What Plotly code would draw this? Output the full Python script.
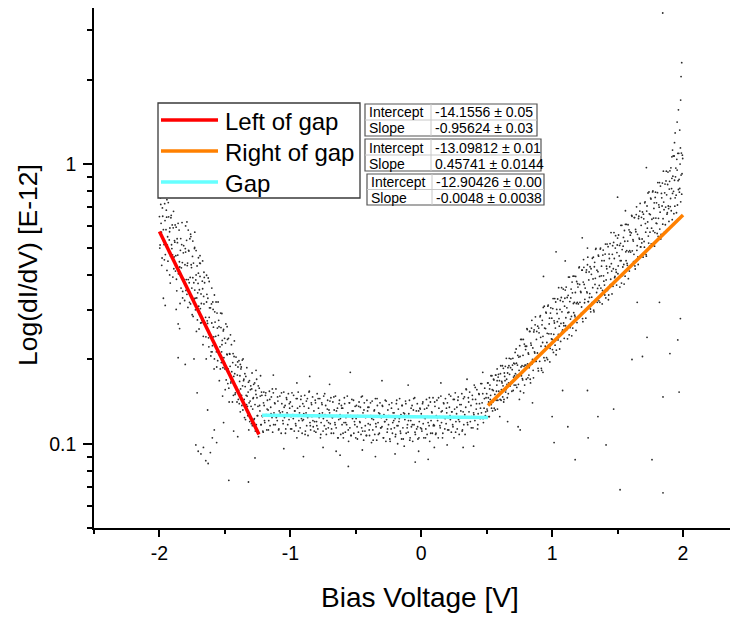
import plotly.graph_objects as go

# ---------------- data ----------------
# (bias voltage V, dI/dV in units of E-12)
left_pts = [
(-2.000,0.648),(-1.995,0.513),(-1.990,0.716),(-1.985,0.570),(-1.980,0.461),(-1.975,0.650),(-1.970,0.582),(-1.965,0.515),(-1.960,0.721),(-1.955,0.474),
(-1.950,0.582),(-1.945,0.645),(-1.940,0.513),(-1.935,0.449),(-1.930,0.647),(-1.925,0.535),(-1.920,0.590),(-1.915,0.468),(-1.910,0.655),(-1.905,0.498),
(-1.900,0.473),(-1.895,0.591),(-1.890,0.422),(-1.885,0.532),(-1.880,0.605),(-1.875,0.470),(-1.870,0.387),(-1.865,0.540),(-1.860,0.472),(-1.855,0.405),
(-1.850,0.580),(-1.845,0.428),(-1.840,0.491),(-1.835,0.360),(-1.830,0.515),(-1.825,0.444),(-1.820,0.383),(-1.815,0.510),(-1.810,0.386),(-1.805,0.436),
(-1.800,0.484),(-1.795,0.386),(-1.790,0.342),(-1.785,0.442),(-1.780,0.386),(-1.775,0.488),(-1.770,0.320),(-1.765,0.393),(-1.760,0.340),(-1.755,0.426),
(-1.750,0.289),(-1.745,0.392),(-1.740,0.442),(-1.735,0.329),(-1.730,0.354),(-1.725,0.301),(-1.720,0.401),(-1.715,0.332),(-1.710,0.277),(-1.705,0.374),
(-1.700,0.310),(-1.695,0.355),(-1.690,0.396),(-1.685,0.270),(-1.680,0.317),(-1.675,0.276),(-1.670,0.358),(-1.665,0.242),(-1.660,0.316),(-1.655,0.376),
(-1.650,0.270),(-1.645,0.241),(-1.640,0.321),(-1.635,0.275),(-1.630,0.331),(-1.625,0.239),(-1.620,0.283),(-1.615,0.245),(-1.610,0.306),(-1.605,0.213),
(-1.600,0.270),(-1.595,0.224),(-1.590,0.302),(-1.585,0.241),(-1.580,0.201),(-1.575,0.272),(-1.570,0.242),(-1.565,0.213),(-1.560,0.293),(-1.555,0.198),
(-1.550,0.244),(-1.545,0.262),(-1.540,0.207),(-1.535,0.185),(-1.530,0.260),(-1.525,0.213),(-1.520,0.234),(-1.515,0.187),(-1.510,0.256),(-1.505,0.195),
(-1.500,0.185),(-1.495,0.229),(-1.490,0.169),(-1.485,0.209),(-1.480,0.236),(-1.475,0.185),(-1.470,0.158),(-1.465,0.210),(-1.460,0.189),(-1.455,0.165),
(-1.450,0.226),(-1.445,0.170),(-1.440,0.195),(-1.435,0.149),(-1.430,0.205),(-1.425,0.178),(-1.420,0.152),(-1.415,0.204),(-1.410,0.156),(-1.405,0.176),
(-1.400,0.188),(-1.395,0.155),(-1.390,0.139),(-1.385,0.175),(-1.380,0.157),(-1.375,0.188),(-1.370,0.137),(-1.365,0.161),(-1.360,0.140),(-1.355,0.170),
(-1.350,0.124),(-1.345,0.160),(-1.340,0.174),(-1.335,0.138),(-1.330,0.148),(-1.325,0.126),(-1.320,0.166),(-1.315,0.140),(-1.310,0.120),(-1.305,0.156),
(-1.300,0.136),(-1.295,0.157),(-1.290,0.116),(-1.285,0.145),(-1.280,0.163),(-1.275,0.123),(-1.270,0.138),(-1.265,0.155),(-1.260,0.117),(-1.255,0.146),
(-1.250,0.126),(-1.245,0.161),(-1.240,0.109),(-1.235,0.137),(-1.230,0.148),(-1.225,0.117),(-1.220,0.153),(-1.215,0.126),(-1.210,0.111),(-1.205,0.140),
]

left_pts2 = [
(-1.9975,0.500),(-1.9925,0.756),(-1.9875,0.613),(-1.9825,0.434),(-1.9775,0.696),(-1.9725,0.541),(-1.9675,0.776),(-1.9625,0.454),(-1.9575,0.627),(-1.9525,0.518),
(-1.9475,0.683),(-1.9425,0.416),(-1.9375,0.549),(-1.9325,0.727),(-1.9275,0.483),(-1.9225,0.572),(-1.9175,0.375),(-1.9125,0.642),(-1.9075,0.514),(-1.9025,0.605),
(-1.8975,0.394),(-1.8925,0.677),(-1.8875,0.465),(-1.8825,0.525),(-1.8775,0.414),(-1.8725,0.594),(-1.8675,0.352),(-1.8625,0.523),(-1.8575,0.613),(-1.8525,0.418),
(-1.8475,0.447),(-1.8425,0.317),(-1.8375,0.541),(-1.8325,0.425),(-1.8275,0.617),(-1.8225,0.350),(-1.8175,0.481),(-1.8125,0.384),(-1.8075,0.325),(-1.8025,0.498),
(-1.7975,0.353),(-1.7925,0.533),(-1.7875,0.433),(-1.7825,0.307),(-1.7775,0.491),(-1.7725,0.376),(-1.7675,0.540),(-1.7625,0.316),(-1.7575,0.436),(-1.7525,0.360),
(-1.7475,0.467),(-1.7425,0.285),(-1.7375,0.376),(-1.7325,0.498),(-1.7275,0.331),(-1.7225,0.385),(-1.7175,0.252),(-1.7125,0.432),(-1.7075,0.346),(-1.7025,0.407),
(-1.6975,0.257),(-1.6925,0.442),(-1.6875,0.304),(-1.6825,0.343),(-1.6775,0.271),(-1.6725,0.381),(-1.6675,0.226),(-1.6625,0.336),(-1.6575,0.393),(-1.6525,0.268),
(-1.6475,0.283),(-1.6425,0.201),(-1.6375,0.342),(-1.6325,0.269),(-1.6275,0.391),(-1.6225,0.222),(-1.6175,0.306),(-1.6125,0.244),(-1.6075,0.206),(-1.6025,0.316),
(-1.5975,0.213),(-1.5925,0.321),(-1.5875,0.261),(-1.5825,0.185),(-1.5775,0.296),(-1.5725,0.224),(-1.5675,0.321),(-1.5625,0.188),(-1.5575,0.259),(-1.5525,0.214),
(-1.5475,0.276),(-1.5425,0.168),(-1.5375,0.222),(-1.5325,0.293),(-1.5275,0.195),(-1.5225,0.226),(-1.5175,0.148),(-1.5125,0.253),(-1.5075,0.203),(-1.5025,0.238),
(-1.4975,0.156),(-1.4925,0.268),(-1.4875,0.184),(-1.4825,0.208),(-1.4775,0.164),(-1.4725,0.238),(-1.4675,0.141),(-1.4625,0.209),(-1.4575,0.245),(-1.4525,0.167),
(-1.4475,0.181),(-1.4425,0.141),(-1.4375,0.210),(-1.4325,0.174),(-1.4275,0.233),(-1.4225,0.150),(-1.4175,0.191),(-1.4125,0.160),(-1.4075,0.141),(-1.4025,0.196),
(-1.3975,0.144),(-1.3925,0.198),(-1.3875,0.167),(-1.3825,0.130),(-1.3775,0.185),(-1.3725,0.149),(-1.3675,0.199),(-1.3625,0.132),(-1.3575,0.168),(-1.3525,0.144),
(-1.3475,0.178),(-1.3425,0.122),(-1.3375,0.149),(-1.3325,0.187),(-1.3275,0.136),(-1.3225,0.153),(-1.3175,0.112),(-1.3125,0.168),(-1.3075,0.142),(-1.3025,0.161),
(-1.2975,0.118),(-1.2925,0.179),(-1.2875,0.133),(-1.2825,0.146),(-1.2775,0.122),(-1.2725,0.165),(-1.2675,0.111),(-1.2625,0.150),(-1.2575,0.170),(-1.2525,0.126),
(-1.2475,0.136),(-1.2425,0.106),(-1.2375,0.158),(-1.2325,0.131),(-1.2275,0.175),(-1.2225,0.117),(-1.2175,0.149),(-1.2125,0.125),(-1.2075,0.110),(-1.2025,0.153),
]

left_extra = [
(-1.975,0.762),(-1.962,0.781),(-1.943,0.745),(-1.970,0.331),(-1.956,0.312),(-1.922,0.401),(-1.872,0.302),(-1.857,0.268),(-1.846,0.258),(-1.823,0.332),
(-1.803,0.192),(-1.857,0.203),(-1.790,0.620),(-1.762,0.561),(-1.731,0.503),(-1.702,0.462),(-1.688,0.441),(-1.712,0.152),(-1.736,0.201),(-1.722,0.099),
(-1.704,0.094),(-1.683,0.092),(-1.664,0.097),(-1.646,0.087),(-1.628,0.085),(-1.611,0.093),(-1.596,0.105),(-1.581,0.112),(-1.563,0.101),(-1.632,0.132),
(-1.510,0.119),(-1.470,0.074),(-1.320,0.073),(-1.523,0.292),(-1.483,0.262),(-1.552,0.321),(-1.402,0.106),(-1.433,0.111),(-1.382,0.192),(-1.361,0.201),
(-1.800,0.600),(-1.780,0.580),(-1.760,0.550),(-1.745,0.530),(-1.730,0.570),(-1.720,0.490),(-1.690,0.470),(-1.670,0.450),(-1.660,0.410),(-1.640,0.400),
(-1.620,0.380),(-1.600,0.360),(-1.580,0.340),
]

gap_pts = [
(-1.200,0.137),(-1.195,0.119),(-1.190,0.149),(-1.185,0.127),(-1.180,0.112),(-1.175,0.143),(-1.170,0.132),(-1.165,0.121),(-1.160,0.154),(-1.155,0.116),
(-1.150,0.135),(-1.145,0.147),(-1.140,0.124),(-1.135,0.110),(-1.130,0.152),(-1.125,0.129),(-1.120,0.140),(-1.115,0.117),(-1.110,0.157),(-1.105,0.125),
(-1.100,0.121),(-1.095,0.142),(-1.090,0.112),(-1.085,0.131),(-1.080,0.148),(-1.075,0.126),(-1.070,0.109),(-1.065,0.139),(-1.060,0.130),(-1.055,0.118),
(-1.050,0.153),(-1.045,0.124),(-1.040,0.137),(-1.035,0.113),(-1.030,0.146),(-1.025,0.129),(-1.020,0.117),(-1.015,0.151),(-1.010,0.122),(-1.005,0.134),
(-1.000,0.141),(-0.995,0.125),(-0.990,0.113),(-0.985,0.136),(-0.980,0.127),(-0.975,0.149),(-0.970,0.111),(-0.965,0.131),(-0.960,0.118),(-0.955,0.145),
(-0.950,0.105),(-0.945,0.134),(-0.940,0.153),(-0.935,0.121),(-0.930,0.129),(-0.925,0.114),(-0.920,0.144),(-0.915,0.123),(-0.910,0.109),(-0.905,0.139),
(-0.900,0.122),(-0.895,0.136),(-0.890,0.149),(-0.885,0.111),(-0.880,0.129),(-0.875,0.116),(-0.870,0.145),(-0.865,0.107),(-0.860,0.134),(-0.855,0.154),
(-0.850,0.119),(-0.845,0.112),(-0.840,0.140),(-0.835,0.125),(-0.830,0.147),(-0.825,0.115),(-0.820,0.131),(-0.815,0.120),(-0.810,0.143),(-0.805,0.110),
(-0.800,0.120),(-0.795,0.151),(-0.790,0.113),(-0.785,0.134),(-0.780,0.124),(-0.775,0.145),(-0.770,0.105),(-0.765,0.119),(-0.760,0.140),(-0.755,0.129),
(-0.750,0.111),(-0.745,0.148),(-0.740,0.116),(-0.735,0.127),(-0.730,0.137),(-0.725,0.108),(-0.720,0.121),(-0.715,0.143),(-0.710,0.114),(-0.705,0.132),
(-0.700,0.129),(-0.695,0.118),(-0.690,0.146),(-0.685,0.113),(-0.680,0.124),(-0.675,0.141),(-0.670,0.109),(-0.665,0.132),(-0.660,0.119),(-0.655,0.148),
(-0.650,0.114),(-0.645,0.126),(-0.640,0.134),(-0.635,0.105),(-0.630,0.122),(-0.625,0.143),(-0.620,0.127),(-0.615,0.108),(-0.610,0.137),(-0.605,0.117),
(-0.600,0.134),(-0.595,0.105),(-0.590,0.119),(-0.585,0.139),(-0.580,0.110),(-0.575,0.124),(-0.570,0.117),(-0.565,0.148),(-0.560,0.129),(-0.555,0.102),
(-0.550,0.140),(-0.545,0.114),(-0.540,0.126),(-0.535,0.107),(-0.530,0.144),(-0.525,0.123),(-0.520,0.131),(-0.515,0.109),(-0.510,0.120),(-0.505,0.136),
(-0.500,0.105),(-0.495,0.137),(-0.490,0.115),(-0.485,0.126),(-0.480,0.110),(-0.475,0.141),(-0.470,0.120),(-0.465,0.135),(-0.460,0.108),(-0.455,0.114),
(-0.450,0.148),(-0.445,0.129),(-0.440,0.103),(-0.435,0.140),(-0.430,0.111),(-0.425,0.124),(-0.420,0.107),(-0.415,0.143),(-0.410,0.131),(-0.405,0.118),
(-0.400,0.135),(-0.395,0.107),(-0.390,0.117),(-0.385,0.126),(-0.380,0.101),(-0.375,0.142),(-0.370,0.112),(-0.365,0.122),(-0.360,0.131),(-0.355,0.108),
(-0.350,0.145),(-0.345,0.115),(-0.340,0.103),(-0.335,0.137),(-0.330,0.119),(-0.325,0.129),(-0.320,0.109),(-0.315,0.140),(-0.310,0.114),(-0.305,0.124),
(-0.300,0.115),(-0.295,0.136),(-0.290,0.105),(-0.285,0.127),(-0.280,0.120),(-0.275,0.143),(-0.270,0.102),(-0.265,0.122),(-0.260,0.110),(-0.255,0.132),
(-0.250,0.117),(-0.245,0.138),(-0.240,0.104),(-0.235,0.125),(-0.230,0.113),(-0.225,0.140),(-0.220,0.109),(-0.215,0.129),(-0.210,0.121),(-0.205,0.114),
(-0.200,0.123),(-0.195,0.108),(-0.190,0.139),(-0.185,0.116),(-0.180,0.100),(-0.175,0.133),(-0.170,0.120),(-0.165,0.145),(-0.160,0.111),(-0.155,0.127),
(-0.150,0.104),(-0.145,0.137),(-0.140,0.114),(-0.135,0.129),(-0.130,0.098),(-0.125,0.122),(-0.120,0.142),(-0.115,0.109),(-0.110,0.126),(-0.105,0.117),
(-0.100,0.110),(-0.095,0.128),(-0.090,0.143),(-0.085,0.105),(-0.080,0.121),(-0.075,0.115),(-0.070,0.137),(-0.065,0.102),(-0.060,0.132),(-0.055,0.117),
(-0.050,0.146),(-0.045,0.108),(-0.040,0.125),(-0.035,0.113),(-0.030,0.139),(-0.025,0.104),(-0.020,0.131),(-0.015,0.120),(-0.010,0.134),(-0.005,0.114),
(0.000,0.128),(0.005,0.111),(0.010,0.139),(0.015,0.118),(0.020,0.105),(0.025,0.133),(0.030,0.123),(0.035,0.113),(0.040,0.144),(0.045,0.108),
(0.050,0.125),(0.055,0.137),(0.060,0.116),(0.065,0.102),(0.070,0.141),(0.075,0.121),(0.080,0.130),(0.085,0.109),(0.090,0.146),(0.095,0.117),
(0.100,0.116),(0.105,0.136),(0.110,0.108),(0.115,0.126),(0.120,0.143),(0.125,0.121),(0.130,0.105),(0.135,0.134),(0.140,0.125),(0.145,0.114),
(0.150,0.148),(0.155,0.119),(0.160,0.131),(0.165,0.109),(0.170,0.140),(0.175,0.124),(0.180,0.113),(0.185,0.145),(0.190,0.118),(0.195,0.129),
(0.200,0.140),(0.205,0.124),(0.210,0.112),(0.215,0.135),(0.220,0.126),(0.225,0.148),(0.230,0.110),(0.235,0.130),(0.240,0.117),(0.245,0.144),
(0.250,0.105),(0.255,0.133),(0.260,0.152),(0.265,0.120),(0.270,0.128),(0.275,0.113),(0.280,0.143),(0.285,0.122),(0.290,0.108),(0.295,0.138),
(0.300,0.124),(0.305,0.138),(0.310,0.151),(0.315,0.112),(0.320,0.130),(0.325,0.117),(0.330,0.147),(0.335,0.108),(0.340,0.135),(0.345,0.156),
(0.350,0.124),(0.355,0.117),(0.360,0.146),(0.365,0.130),(0.370,0.153),(0.375,0.120),(0.380,0.137),(0.385,0.125),(0.390,0.149),(0.395,0.114),
(0.400,0.129),(0.405,0.162),(0.410,0.121),(0.415,0.144),(0.420,0.133),(0.425,0.156),(0.430,0.113),(0.435,0.128),(0.440,0.151),(0.445,0.139),
(0.450,0.123),(0.455,0.164),(0.460,0.129),(0.465,0.140),(0.470,0.151),(0.475,0.119),(0.480,0.134),(0.485,0.158),(0.490,0.126),(0.495,0.146),
]

gap_pts2 = [
(-1.1975,0.121),(-1.1875,0.152),(-1.1775,0.133),(-1.1675,0.112),(-1.1575,0.144),(-1.1475,0.128),(-1.1375,0.157),(-1.1275,0.117),(-1.1175,0.139),(-1.1075,0.124),
(-1.0975,0.147),(-1.0875,0.113),(-1.0775,0.129),(-1.0675,0.152),(-1.0575,0.121),(-1.0475,0.135),(-1.0375,0.109),(-1.0275,0.144),(-1.0175,0.127),(-1.0075,0.139),
(-0.9975,0.113),(-0.9875,0.152),(-0.9775,0.123),(-0.9675,0.131),(-0.9575,0.116),(-0.9475,0.145),(-0.9375,0.111),(-0.9275,0.136),(-0.9175,0.148),(-0.9075,0.121),
(-0.8975,0.128),(-0.8875,0.108),(-0.8775,0.142),(-0.8675,0.124),(-0.8575,0.153),(-0.8475,0.116),(-0.8375,0.138),(-0.8275,0.121),(-0.8175,0.111),(-0.8075,0.140),
(-0.7975,0.116),(-0.7875,0.145),(-0.7775,0.128),(-0.7675,0.108),(-0.7575,0.138),(-0.7475,0.123),(-0.7375,0.151),(-0.7275,0.113),(-0.7175,0.133),(-0.7075,0.119),
(-0.6975,0.142),(-0.6875,0.109),(-0.6775,0.124),(-0.6675,0.147),(-0.6575,0.117),(-0.6475,0.131),(-0.6375,0.105),(-0.6275,0.139),(-0.6175,0.123),(-0.6075,0.134),
(-0.5975,0.109),(-0.5875,0.146),(-0.5775,0.119),(-0.5675,0.126),(-0.5575,0.112),(-0.5475,0.140),(-0.5375,0.107),(-0.5275,0.131),(-0.5175,0.143),(-0.5075,0.117),
(-0.4975,0.123),(-0.4875,0.104),(-0.4775,0.136),(-0.4675,0.119),(-0.4575,0.147),(-0.4475,0.111),(-0.4375,0.132),(-0.4275,0.116),(-0.4175,0.107),(-0.4075,0.135),
(-0.3975,0.112),(-0.3875,0.140),(-0.3775,0.123),(-0.3675,0.103),(-0.3575,0.132),(-0.3475,0.118),(-0.3375,0.145),(-0.3275,0.108),(-0.3175,0.128),(-0.3075,0.114),
(-0.2975,0.137),(-0.2875,0.105),(-0.2775,0.120),(-0.2675,0.142),(-0.2575,0.113),(-0.2475,0.126),(-0.2375,0.102),(-0.2275,0.134),(-0.2175,0.119),(-0.2075,0.129),
(-0.1975,0.106),(-0.1875,0.143),(-0.1775,0.116),(-0.1675,0.123),(-0.1575,0.109),(-0.1475,0.137),(-0.1375,0.104),(-0.1275,0.128),(-0.1175,0.139),(-0.1075,0.114),
(-0.0975,0.121),(-0.0875,0.103),(-0.0775,0.134),(-0.0675,0.117),(-0.0575,0.145),(-0.0475,0.110),(-0.0375,0.131),(-0.0275,0.115),(-0.0175,0.105),(-0.0075,0.133),
(0.0025,0.113),(0.0125,0.141),(0.0225,0.124),(0.0325,0.105),(0.0425,0.134),(0.0525,0.119),(0.0625,0.146),(0.0725,0.109),(0.0825,0.129),(0.0925,0.116),
(0.1025,0.141),(0.1125,0.109),(0.1225,0.124),(0.1325,0.146),(0.1425,0.116),(0.1525,0.130),(0.1625,0.105),(0.1725,0.139),(0.1825,0.123),(0.1925,0.134),
(0.2025,0.112),(0.2125,0.150),(0.2225,0.122),(0.2325,0.130),(0.2425,0.115),(0.2525,0.144),(0.2625,0.110),(0.2725,0.135),(0.2825,0.147),(0.2925,0.120),
(0.3025,0.131),(0.3125,0.111),(0.3225,0.145),(0.3325,0.127),(0.3425,0.157),(0.3525,0.119),(0.3625,0.141),(0.3725,0.124),(0.3825,0.114),(0.3925,0.144),
(0.4025,0.127),(0.4125,0.159),(0.4225,0.139),(0.4325,0.117),(0.4425,0.150),(0.4525,0.134),(0.4625,0.164),(0.4725,0.123),(0.4825,0.145),(0.4925,0.130),
]

gap_extra = [
(-1.262,0.183),(-1.130,0.176),(-0.852,0.174),(-0.542,0.180),(-0.950,0.165),(-0.700,0.163),(-0.300,0.168),(-0.100,0.162),(0.150,0.165),(0.350,0.170),
(0.470,0.180),(-1.270,0.089),(-0.900,0.090),(-0.557,0.083),(-0.350,0.090),(-0.046,0.086),(0.053,0.088),(0.198,0.099),(0.320,0.097),(-1.050,0.096),
(-0.650,0.094),(-0.200,0.092),(0.400,0.098),(-0.750,0.097),(-0.450,0.095),(0.100,0.097),(-0.020,0.094),(-0.620,0.091),
]

right_pts = [
(0.500,0.151),(0.505,0.131),(0.510,0.165),(0.515,0.141),(0.520,0.125),(0.525,0.162),(0.530,0.149),(0.535,0.138),(0.540,0.175),(0.545,0.131),
(0.550,0.155),(0.555,0.169),(0.560,0.144),(0.565,0.132),(0.570,0.176),(0.575,0.154),(0.580,0.168),(0.585,0.143),(0.590,0.177),(0.595,0.149),
(0.600,0.152),(0.605,0.178),(0.610,0.143),(0.615,0.167),(0.620,0.190),(0.625,0.161),(0.630,0.141),(0.635,0.179),(0.640,0.168),(0.645,0.153),
(0.650,0.202),(0.655,0.163),(0.660,0.179),(0.665,0.151),(0.670,0.190),(0.675,0.177),(0.680,0.161),(0.685,0.201),(0.690,0.165),(0.695,0.184),
(0.700,0.202),(0.705,0.173),(0.710,0.162),(0.715,0.193),(0.720,0.178),(0.725,0.218),(0.730,0.159),(0.735,0.191),(0.740,0.174),(0.745,0.204),
(0.750,0.144),(0.755,0.205),(0.760,0.236),(0.765,0.175),(0.770,0.190),(0.775,0.169),(0.780,0.236),(0.785,0.189),(0.790,0.162),(0.795,0.223),
(0.800,0.191),(0.805,0.223),(0.810,0.256),(0.815,0.172),(0.820,0.209),(0.825,0.187),(0.830,0.252),(0.835,0.165),(0.840,0.225),(0.845,0.276),
(0.850,0.200),(0.855,0.183),(0.860,0.251),(0.865,0.213),(0.870,0.266),(0.875,0.197),(0.880,0.236),(0.885,0.204),(0.890,0.263),(0.895,0.182),
(0.900,0.249),(0.905,0.197),(0.910,0.287),(0.915,0.223),(0.920,0.183),(0.925,0.276),(0.930,0.242),(0.935,0.215),(0.940,0.310),(0.945,0.198),
(0.950,0.258),(0.955,0.293),(0.960,0.230),(0.965,0.200),(0.970,0.313),(0.975,0.247),(0.980,0.281),(0.985,0.219),(0.990,0.306),(0.995,0.237),
(1.000,0.236),(1.005,0.304),(1.010,0.212),(1.015,0.275),(1.020,0.330),(1.025,0.259),(1.030,0.208),(1.035,0.302),(1.040,0.273),(1.045,0.235),
(1.050,0.361),(1.055,0.263),(1.060,0.302),(1.065,0.232),(1.070,0.333),(1.075,0.296),(1.080,0.255),(1.085,0.357),(1.090,0.264),(1.095,0.310),
(1.100,0.354),(1.105,0.282),(1.110,0.255),(1.115,0.333),(1.120,0.294),(1.125,0.394),(1.130,0.245),(1.135,0.322),(1.140,0.279),(1.145,0.357),
(1.150,0.243),(1.155,0.346),(1.160,0.397),(1.165,0.294),(1.170,0.320),(1.175,0.284),(1.180,0.396),(1.185,0.317),(1.190,0.271),(1.195,0.373),
(1.200,0.316),(1.205,0.425),(1.210,0.371),(1.215,0.286),(1.220,0.347),(1.225,0.308),(1.230,0.417),(1.235,0.273),(1.240,0.455),(1.245,0.371),
(1.250,0.328),(1.255,0.299),(1.260,0.410),(1.265,0.349),(1.270,0.436),(1.275,0.322),(1.280,0.385),(1.285,0.333),(1.290,0.429),(1.295,0.296),
(1.300,0.403),(1.305,0.319),(1.310,0.361),(1.315,0.464),(1.320,0.296),(1.325,0.445),(1.330,0.390),(1.335,0.499),(1.340,0.347),(1.345,0.320),
(1.350,0.412),(1.355,0.468),(1.360,0.368),(1.365,0.320),(1.370,0.500),(1.375,0.398),(1.380,0.451),(1.385,0.353),(1.390,0.492),(1.395,0.381),
(1.400,0.369),(1.405,0.476),(1.410,0.332),(1.415,0.431),(1.420,0.517),(1.425,0.408),(1.430,0.327),(1.435,0.476),(1.440,0.429),(1.445,0.370),
(1.450,0.568),(1.455,0.414),(1.460,0.475),(1.465,0.365),(1.470,0.524),(1.475,0.459),(1.480,0.396),(1.485,0.554),(1.490,0.410),(1.495,0.482),
(1.500,0.543),(1.505,0.432),(1.510,0.391),(1.515,0.511),(1.520,0.451),(1.525,0.603),(1.530,0.375),(1.535,0.494),(1.540,0.428),(1.545,0.546),
(1.550,0.372),(1.555,0.529),(1.560,0.608),(1.565,0.451),(1.570,0.490),(1.575,0.434),(1.580,0.606),(1.585,0.485),(1.590,0.414),(1.595,0.571),
(1.600,0.484),(1.605,0.567),(1.610,0.650),(1.615,0.437),(1.620,0.530),(1.625,0.475),(1.630,0.643),(1.635,0.421),(1.640,0.572),(1.645,0.702),
(1.650,0.510),(1.655,0.465),(1.660,0.638),(1.665,0.543),(1.670,0.678),(1.675,0.505),(1.680,0.603),(1.685,0.522),(1.690,0.673),(1.695,0.464),
(1.700,0.636),(1.705,0.504),(1.710,0.732),(1.715,0.570),(1.720,0.468),(1.725,0.707),(1.730,0.620),(1.735,0.552),(1.740,0.794),(1.745,0.508),
(1.750,0.659),(1.755,0.749),(1.760,0.589),(1.765,0.512),(1.770,0.800),(1.775,0.640),(1.780,0.726),(1.785,0.568),(1.790,0.792),(1.795,0.614),
(1.800,0.612),(1.805,0.789),(1.810,0.551),(1.815,0.714),(1.820,0.857),(1.825,0.672),(1.830,0.539),(1.835,0.784),(1.840,0.707),(1.845,0.609),
(1.850,0.942),(1.855,0.686),(1.860,0.788),(1.865,0.606),(1.870,0.869),(1.875,0.775),(1.880,0.669),(1.885,0.935),(1.890,0.692),(1.895,0.813),
(1.900,0.944),(1.905,0.752),(1.910,0.680),(1.915,0.888),(1.920,0.784),(1.925,1.067),(1.930,0.664),(1.935,0.874),(1.940,0.756),(1.945,0.966),
(1.950,0.669),(1.955,0.950),(1.960,1.091),(1.965,0.810),(1.970,0.880),(1.975,0.817),(1.980,1.140),(1.985,0.912),(1.990,0.779),(1.995,1.074),
]

right_pts2 = [
(0.5025,0.133),(0.5075,0.165),(0.5125,0.146),(0.5175,0.125),(0.5225,0.157),(0.5275,0.144),(0.5325,0.175),(0.5375,0.134),(0.5425,0.156),(0.5475,0.141),
(0.5525,0.170),(0.5575,0.134),(0.5625,0.150),(0.5675,0.176),(0.5725,0.143),(0.5775,0.162),(0.5825,0.133),(0.5875,0.173),(0.5925,0.154),(0.5975,0.168),
(0.6025,0.144),(0.6075,0.190),(0.6125,0.156),(0.6175,0.165),(0.6225,0.147),(0.6275,0.186),(0.6325,0.144),(0.6375,0.174),(0.6425,0.189),(0.6475,0.156),
(0.6525,0.170),(0.6575,0.146),(0.6625,0.187),(0.6675,0.165),(0.6725,0.202),(0.6775,0.161),(0.6825,0.187),(0.6875,0.166),(0.6925,0.154),(0.6975,0.191),
(0.7025,0.155),(0.7075,0.194),(0.7125,0.175),(0.7175,0.212),(0.7225,0.162),(0.7275,0.194),(0.7325,0.176),(0.7375,0.207),(0.7425,0.163),(0.7475,0.183),
(0.7525,0.224),(0.7575,0.154),(0.7625,0.188),(0.7675,0.236),(0.7725,0.171),(0.7775,0.207),(0.7825,0.152),(0.7875,0.227),(0.7925,0.191),(0.7975,0.217),
(0.8025,0.170),(0.8075,0.258),(0.8125,0.193),(0.8175,0.211),(0.8225,0.176),(0.8275,0.252),(0.8325,0.170),(0.8375,0.229),(0.8425,0.259),(0.8475,0.193),
(0.8525,0.220),(0.8575,0.172),(0.8625,0.255),(0.8675,0.211),(0.8725,0.284),(0.8775,0.197),(0.8825,0.252),(0.8875,0.211),(0.8925,0.186),(0.8975,0.259),
(0.9025,0.207),(0.9075,0.284),(0.9125,0.240),(0.9175,0.186),(0.9225,0.266),(0.9275,0.230),(0.9325,0.307),(0.9375,0.203),(0.9425,0.259),(0.9475,0.223),
(0.9525,0.295),(0.9575,0.203),(0.9625,0.248),(0.9675,0.310),(0.9725,0.225),(0.9775,0.268),(0.9825,0.196),(0.9875,0.293),(0.9925,0.247),(0.9975,0.281),
(1.0025,0.217),(1.0075,0.330),(1.0125,0.246),(1.0175,0.270),(1.0225,0.225),(1.0275,0.321),(1.0325,0.216),(1.0375,0.292),(1.0425,0.329),(1.0475,0.246),
(1.0525,0.280),(1.0575,0.218),(1.0625,0.325),(1.0675,0.269),(1.0725,0.361),(1.0775,0.252),(1.0825,0.322),(1.0875,0.270),(1.0925,0.238),(1.0975,0.331),
(1.1025,0.264),(1.1075,0.363),(1.1125,0.306),(1.1175,0.237),(1.1225,0.339),(1.1275,0.295),(1.1325,0.394),(1.1375,0.260),(1.1425,0.332),(1.1475,0.285),
(1.1525,0.378),(1.1575,0.259),(1.1625,0.317),(1.1675,0.397),(1.1725,0.288),(1.1775,0.347),(1.1825,0.254),(1.1875,0.380),(1.1925,0.320),(1.1975,0.363),
(1.2025,0.282),(1.2075,0.428),(1.2125,0.320),(1.2175,0.350),(1.2225,0.292),(1.2275,0.417),(1.2325,0.280),(1.2375,0.378),(1.2425,0.427),(1.2475,0.319),
(1.2525,0.360),(1.2575,0.281),(1.2625,0.418),(1.2675,0.346),(1.2725,0.464),(1.2775,0.322),(1.2825,0.411),(1.2875,0.344),(1.2925,0.303),(1.2975,0.422),
(1.3025,0.334),(1.3075,0.460),(1.3125,0.388),(1.3175,0.300),(1.3225,0.429),(1.3275,0.371),(1.3325,0.495),(1.3375,0.328),(1.3425,0.417),(1.3475,0.359),
(1.3525,0.472),(1.3575,0.324),(1.3625,0.396),(1.3675,0.496),(1.3725,0.360),(1.3775,0.431),(1.3825,0.316),(1.3875,0.472),(1.3925,0.398),(1.3975,0.451),
(1.4025,0.340),(1.4075,0.517),(1.4125,0.385),(1.4175,0.422),(1.4225,0.353),(1.4275,0.506),(1.4325,0.340),(1.4375,0.459),(1.4425,0.519),(1.4475,0.387),
(1.4525,0.440),(1.4575,0.343),(1.4625,0.510),(1.4675,0.422),(1.4725,0.568),(1.4775,0.392),(1.4825,0.500),(1.4875,0.419),(1.4925,0.369),(1.4975,0.513),
(1.5025,0.405),(1.5075,0.557),(1.5125,0.469),(1.5175,0.363),(1.5225,0.520),(1.5275,0.451),(1.5325,0.603),(1.5375,0.399),(1.5425,0.508),(1.5475,0.437),
(1.5525,0.578),(1.5575,0.397),(1.5625,0.485),(1.5675,0.608),(1.5725,0.441),(1.5775,0.530),(1.5825,0.389),(1.5875,0.581),(1.5925,0.490),(1.5975,0.556),
(1.6025,0.432),(1.6075,0.655),(1.6125,0.489),(1.6175,0.536),(1.6225,0.447),(1.6275,0.643),(1.6325,0.432),(1.6375,0.583),(1.6425,0.659),(1.6475,0.491),
(1.6525,0.560),(1.6575,0.437),(1.6625,0.650),(1.6675,0.538),(1.6725,0.722),(1.6775,0.505),(1.6825,0.644),(1.6875,0.539),(1.6925,0.476),(1.6975,0.661),
(1.7025,0.528),(1.7075,0.726),(1.7125,0.612),(1.7175,0.474),(1.7225,0.678),(1.7275,0.589),(1.7325,0.787),(1.7375,0.521),(1.7425,0.663),(1.7475,0.570),
(1.7525,0.755),(1.7575,0.518),(1.7625,0.634),(1.7675,0.794),(1.7725,0.576),(1.7775,0.693),(1.7825,0.508),(1.7875,0.759),(1.7925,0.640),(1.7975,0.726),
(1.8025,0.564),(1.8075,0.857),(1.8125,0.639),(1.8175,0.700),(1.8225,0.585),(1.8275,0.833),(1.8325,0.560),(1.8375,0.756),(1.8425,0.854),(1.8475,0.637),
(1.8525,0.730),(1.8575,0.569),(1.8625,0.847),(1.8675,0.701),(1.8725,0.942),(1.8775,0.661),(1.8825,0.844),(1.8875,0.707),(1.8925,0.623),(1.8975,0.866),
(1.9025,0.704),(1.9075,0.968),(1.9125,0.816),(1.9175,0.632),(1.9225,0.904),(1.9275,0.798),(1.9325,1.067),(1.9375,0.706),(1.9425,0.899),(1.9475,0.773),
(1.9525,1.038),(1.9575,0.713),(1.9625,0.871),(1.9675,1.091),(1.9725,0.792),(1.9775,0.998),(1.9825,0.732),(1.9875,1.093),(1.9925,0.922),(1.9975,1.045),
]

right_extra = [
(0.934,0.396),(1.030,0.485),(1.230,0.544),(1.270,0.500),(1.500,0.760),(1.560,0.680),(1.720,0.970),(1.100,0.450),(0.580,0.185),(1.847,0.147),
(1.970,0.153),(1.960,0.235),(1.900,0.210),(1.820,0.320),(1.980,0.280),(1.650,0.320),(1.725,0.240),(1.610,0.200),(1.690,0.205),(1.270,0.155),
(1.470,0.133),(1.350,0.125),(1.000,0.125),(1.120,0.115),(1.080,0.155),(0.930,0.180),(0.850,0.140),(0.740,0.115),(0.660,0.120),(0.600,0.125),
(0.756,0.112),(1.015,0.101),(1.176,0.0877),(1.275,0.105),(1.412,0.099),(1.519,0.0685),(1.763,0.0877),(1.847,0.0668),(1.982,1.690),(1.955,1.410),
(1.940,1.290),(1.920,1.120),(1.915,1.060),(1.965,1.560),(1.985,2.050),(1.990,2.300),(1.975,1.320),(1.935,1.190),(1.845,3.460),
]

# linear fits (log10 of dI/dV in A/V): intercept, slope as printed
fit_names = ["Left of gap", "Right of gap", "Gap"]
fit_colors = ["#FF0000", "#FF8000", "#66FFFF"]
fit_v = [[-2.0, -1.24], [0.51, 2.0], [-1.216, 0.51]]
fit_y = [[0.573, 0.108], [0.137, 0.656], [0.1264, 0.1240]]
fit_intercept = ["-14.1556 ± 0.05", "-13.09812 ± 0.01", "-12.90426 ± 0.00"]
fit_slope = ["-0.95624 ± 0.03", "0.45741 ± 0.0144", "-0.0048 ± 0.0038"]

x_tickvals = [-2, -1, 0, 1, 2]
x_ticktext = ["-2", "-1", "0", "1", "2"]
x_minor = [-2.5, -1.5, -0.5, 0.5, 1.5]
y_tickvals = [0.1, 1]
y_ticktext = ["0.1", "1"]
y_minor = [0.05, 0.06, 0.07, 0.08, 0.09, 0.2, 0.3, 0.4, 0.5, 0.6, 0.7, 0.8, 0.9, 2, 3]

# ---------------- figure ----------------
# the page body adds an 8 px offset, so the figure is drawn 8 px smaller
OFF = 8
W, H = 738 - OFF, 618 - OFF
L, R, T, B = 94 - OFF, 0, 0, 90
PW, PH = W - L - R, H - T - B
FONT = "Liberation Sans, Arial, sans-serif"


def px(x_ref):
    return (x_ref - OFF - L) / PW


def py(y_ref):
    return (H - B - (y_ref - OFF)) / PH


all_pts = (left_pts + left_pts2 + left_extra + gap_pts + gap_pts2 + gap_extra
           + right_pts + right_pts2 + right_extra)
sx = [p[0] for p in all_pts]
sy = [p[1] for p in all_pts]

fig = go.Figure()
fig.add_trace(go.Scatter(x=sx, y=sy, mode="markers",
                         marker=dict(size=1.8, color="#2a2a2a", line=dict(width=0)),
                         showlegend=False, hoverinfo="skip"))
for name, col, xv, yv in zip(fit_names, fit_colors, fit_v, fit_y):
    fig.add_trace(go.Scatter(x=xv, y=yv, mode="lines", name=name,
                             line=dict(color=col, width=3.5), showlegend=False))

shapes = []
annots = []

# legend box
shapes.append(dict(type="rect", xref="paper", yref="paper", x0=px(158), x1=px(360), y0=py(103), y1=py(198),
                   line=dict(color="#3a3a3a", width=1.3), fillcolor="white", layer="above"))
for i, (name, col) in enumerate(zip(fit_names, fit_colors)):
    yy = 120 + i * 31
    shapes.append(dict(type="line", xref="paper", yref="paper", x0=px(161), x1=px(218), y0=py(yy), y1=py(yy),
                       line=dict(color=col, width=3.5), layer="above"))
    annots.append(dict(xref="paper", yref="paper", x=px(223), y=py(yy + 1), text=name, showarrow=False,
                       xanchor="left", yanchor="middle", font=dict(family=FONT, size=24, color="black")))

# fit parameter tables
tables = [(365, 537, 104, 136, 431), (365, 541, 139, 171, 431), (367, 544, 174, 205, 432)]
for (x0, x1, y0, y1, xc), ic, sl in zip(tables, fit_intercept, fit_slope):
    ym = (y0 + y1) / 2
    shapes.append(dict(type="rect", xref="paper", yref="paper", x0=px(x0), x1=px(x1), y0=py(y0), y1=py(y1),
                       line=dict(color="#555555", width=1.2), fillcolor="white", layer="above"))
    shapes.append(dict(type="line", xref="paper", yref="paper", x0=px(x0), x1=px(x1), y0=py(ym), y1=py(ym),
                       line=dict(color="#c8c8c8", width=1), layer="above"))
    shapes.append(dict(type="line", xref="paper", yref="paper", x0=px(xc), x1=px(xc), y0=py(y0), y1=py(y1),
                       line=dict(color="#c8c8c8", width=1), layer="above"))
    for txt, xx, yy in [("Intercept", x0 + 2, (y0 + ym) / 2), ("Slope", x0 + 2, (ym + y1) / 2),
                        (ic, xc + 2, (y0 + ym) / 2), (sl, xc + 2, (ym + y1) / 2)]:
        annots.append(dict(xref="paper", yref="paper", x=px(xx), y=py(yy + 0.5), text=txt, showarrow=False,
                           xanchor="left", yanchor="middle", font=dict(family=FONT, size=14, color="black")))

# axis titles
annots.append(dict(xref="paper", yref="paper", x=px(420), y=py(597), text="Bias Voltage [V]", showarrow=False,
                   xanchor="center", yanchor="middle", font=dict(family=FONT, size=28, color="black")))
annots.append(dict(xref="paper", yref="paper", x=px(28), y=py(265), text="Log(dI/dV) [E-12]", showarrow=False,
                   textangle=-90, xanchor="center", yanchor="middle", font=dict(family=FONT, size=26.5, color="black")))

fig.update_layout(
    width=W, height=H,
    margin=dict(l=L, r=R, t=T, b=B, pad=0),
    paper_bgcolor="white", plot_bgcolor="white",
    shapes=shapes, annotations=annots,
    font=dict(family=FONT, color="black"),
    xaxis=dict(range=[-2.5, 2.42], showgrid=False, zeroline=False,
               showline=True, linecolor="black", linewidth=1.6,
               ticks="outside", ticklen=7, tickwidth=1.5, tickcolor="black",
               tickmode="array", tickvals=x_tickvals, ticktext=x_ticktext,
               tickfont=dict(family=FONT, size=19.5, color="black"),
               minor=dict(tickmode="array", tickvals=x_minor, ticks="outside", ticklen=4,
                          tickwidth=1.5, tickcolor="black", showgrid=False)),
    yaxis=dict(type="log", range=[-1.30103, 0.5569], showgrid=False, zeroline=False,
               showline=True, linecolor="black", linewidth=1.6,
               ticks="outside", ticklen=9, tickwidth=1.5, tickcolor="black",
               tickmode="array", tickvals=y_tickvals, ticktext=y_ticktext,
               ticklabelstandoff=3,
               tickfont=dict(family=FONT, size=19.5, color="black"),
               minor=dict(tickmode="array", tickvals=y_minor, ticks="outside", ticklen=5,
                          tickwidth=1.5, tickcolor="black", showgrid=False)),
)

fig.write_html("out.html")
